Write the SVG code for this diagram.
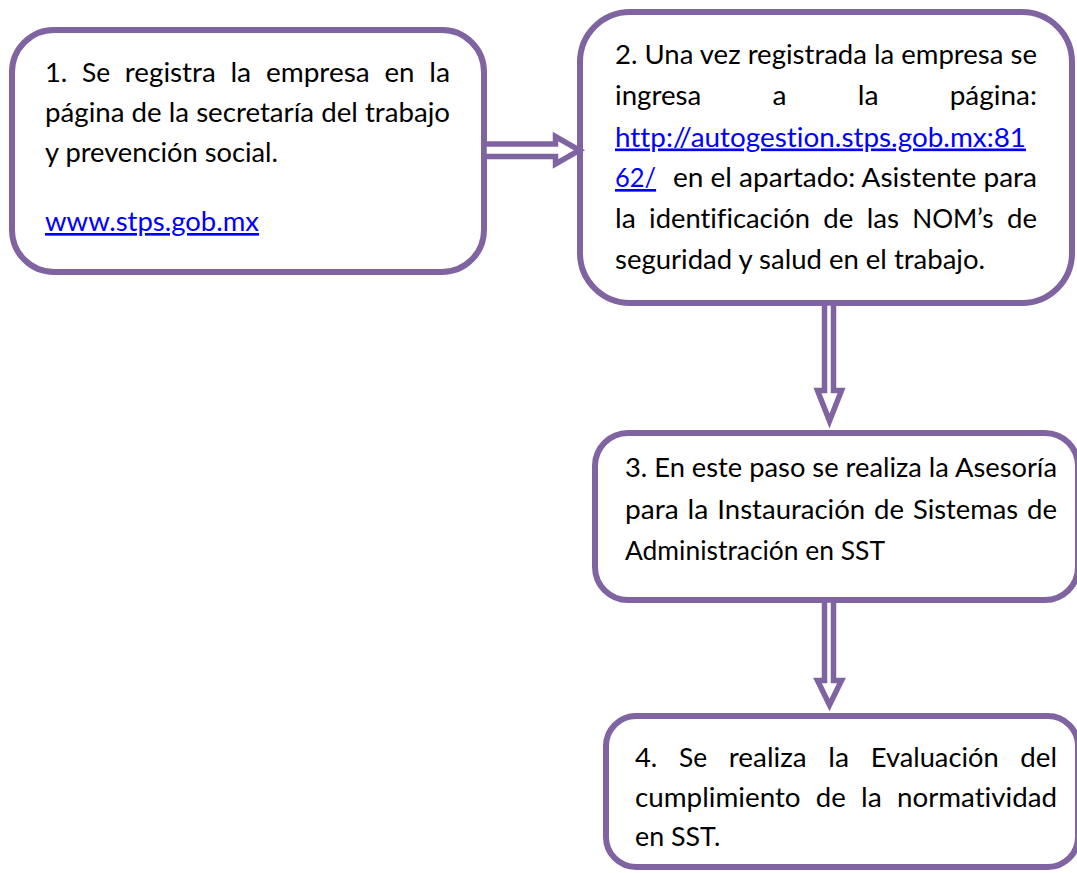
<svg xmlns="http://www.w3.org/2000/svg" width="1077" height="873" viewBox="0 0 1077 873">
<style>
.box{fill:#fff;stroke:#8064A2;stroke-width:6}
.arr{fill:#fff;stroke:#8064A2;stroke-width:5.5;stroke-linejoin:miter}
text{font-family:Lato,"Liberation Sans",sans-serif;font-size:26.5px;fill:#000;font-variant-ligatures:none;font-feature-settings:"liga" 0;}
.lk{fill:#0000FF;text-decoration:underline}
</style>
<rect width="1077" height="873" fill="#fff"/>
<g id="node1">
<rect class="box" x="12" y="30" width="472" height="242" rx="42"/>
<text x="45" y="82" textLength="22.3" lengthAdjust="spacingAndGlyphs">1.</text>
<text x="82" y="82" textLength="28.1" lengthAdjust="spacingAndGlyphs">Se</text>
<text x="124.8" y="82" textLength="90.9" lengthAdjust="spacingAndGlyphs">registra</text>
<text x="230.4" y="82" textLength="20.8" lengthAdjust="spacingAndGlyphs">la</text>
<text x="265.9" y="82" textLength="103.8" lengthAdjust="spacingAndGlyphs">empresa</text>
<text x="384.4" y="82" textLength="30" lengthAdjust="spacingAndGlyphs">en</text>
<text x="429.2" y="82" textLength="20.8" lengthAdjust="spacingAndGlyphs">la</text>
<text x="45" y="122" textLength="405" lengthAdjust="spacingAndGlyphs">página de la secretaría del trabajo</text>
<text x="45" y="162" textLength="233" lengthAdjust="spacingAndGlyphs">y prevención social.</text>
<text class="lk" x="45" y="231" textLength="214" lengthAdjust="spacingAndGlyphs">www.stps.gob.mx</text>
</g>
<g id="node2">
<rect class="box" x="580" y="12" width="492" height="291" rx="50"/>
<text x="615" y="64" textLength="422" lengthAdjust="spacingAndGlyphs">2. Una vez registrada la empresa se</text>
<text x="615" y="104.5" textLength="86.3" lengthAdjust="spacingAndGlyphs">ingresa</text>
<text x="772.5" y="104.5" textLength="14" lengthAdjust="spacingAndGlyphs">a</text>
<text x="857.7" y="104.5" textLength="20.8" lengthAdjust="spacingAndGlyphs">la</text>
<text x="949.7" y="104.5" textLength="87.3" lengthAdjust="spacingAndGlyphs">página:</text>
<text class="lk" x="615" y="146.5" textLength="411" lengthAdjust="spacingAndGlyphs">http://autogestion.stps.gob.mx:81</text>
<text class="lk" x="615" y="187" textLength="41.1" lengthAdjust="spacingAndGlyphs">62/</text>
<text x="673" y="187" textLength="364" lengthAdjust="spacingAndGlyphs">en el apartado: Asistente para</text>
<text x="615" y="228" textLength="20.8" lengthAdjust="spacingAndGlyphs">la</text>
<text x="649.1" y="228" textLength="160.9" lengthAdjust="spacingAndGlyphs">identificación</text>
<text x="823.3" y="228" textLength="30" lengthAdjust="spacingAndGlyphs">de</text>
<text x="866.7" y="228" textLength="32.3" lengthAdjust="spacingAndGlyphs">las</text>
<text x="912.3" y="228" textLength="81.3" lengthAdjust="spacingAndGlyphs">NOM’s</text>
<text x="1007" y="228" textLength="30" lengthAdjust="spacingAndGlyphs">de</text>
<text x="615" y="268.5" textLength="370" lengthAdjust="spacingAndGlyphs">seguridad y salud en el trabajo.</text>
</g>
<g id="node3">
<rect class="box" x="595" y="433" width="483" height="167" rx="33"/>
<text x="625" y="477" textLength="432" lengthAdjust="spacingAndGlyphs">3. En este paso se realiza la Asesoría</text>
<text x="625" y="519" textLength="53.7" lengthAdjust="spacingAndGlyphs">para</text>
<text x="687.6" y="519" textLength="20.8" lengthAdjust="spacingAndGlyphs">la</text>
<text x="717.3" y="519" textLength="147.9" lengthAdjust="spacingAndGlyphs">Instauración</text>
<text x="874.1" y="519" textLength="30" lengthAdjust="spacingAndGlyphs">de</text>
<text x="913" y="519" textLength="105.1" lengthAdjust="spacingAndGlyphs">Sistemas</text>
<text x="1027" y="519" textLength="30" lengthAdjust="spacingAndGlyphs">de</text>
<text x="625" y="560" textLength="260" lengthAdjust="spacingAndGlyphs">Administración en SST</text>
</g>
<g id="node4">
<rect class="box" x="606" y="716" width="472" height="151" rx="30"/>
<text x="635" y="767" textLength="22.3" lengthAdjust="spacingAndGlyphs">4.</text>
<text x="679" y="767" textLength="28.1" lengthAdjust="spacingAndGlyphs">Se</text>
<text x="728.8" y="767" textLength="77.8" lengthAdjust="spacingAndGlyphs">realiza</text>
<text x="828.3" y="767" textLength="20.8" lengthAdjust="spacingAndGlyphs">la</text>
<text x="870.8" y="767" textLength="127.8" lengthAdjust="spacingAndGlyphs">Evaluación</text>
<text x="1020.3" y="767" textLength="36.7" lengthAdjust="spacingAndGlyphs">del</text>
<text x="635" y="807" textLength="165.6" lengthAdjust="spacingAndGlyphs">cumplimiento</text>
<text x="815.8" y="807" textLength="30" lengthAdjust="spacingAndGlyphs">de</text>
<text x="861" y="807" textLength="20.8" lengthAdjust="spacingAndGlyphs">la</text>
<text x="897" y="807" textLength="160" lengthAdjust="spacingAndGlyphs">normatividad</text>
<text x="635" y="846" textLength="85.3" lengthAdjust="spacingAndGlyphs">en SST.</text>
</g>
<g id="connectors">
<path class="arr" d="M484,144 L555.5,144 L555.5,136.5 L579.5,150.25 L555.5,164 L555.5,156.5 L484,156.5 Z"/>
<path class="arr" d="M824.5,303 L824.5,390.5 L817.5,390.5 L829.5,421 L841.5,390.5 L833.5,390.5 L833.5,303 Z"/>
<path class="arr" d="M824.5,600 L824.5,680.5 L817.5,680.5 L829.5,705 L841.5,680.5 L833.5,680.5 L833.5,600 Z"/>
</g>
</svg>
